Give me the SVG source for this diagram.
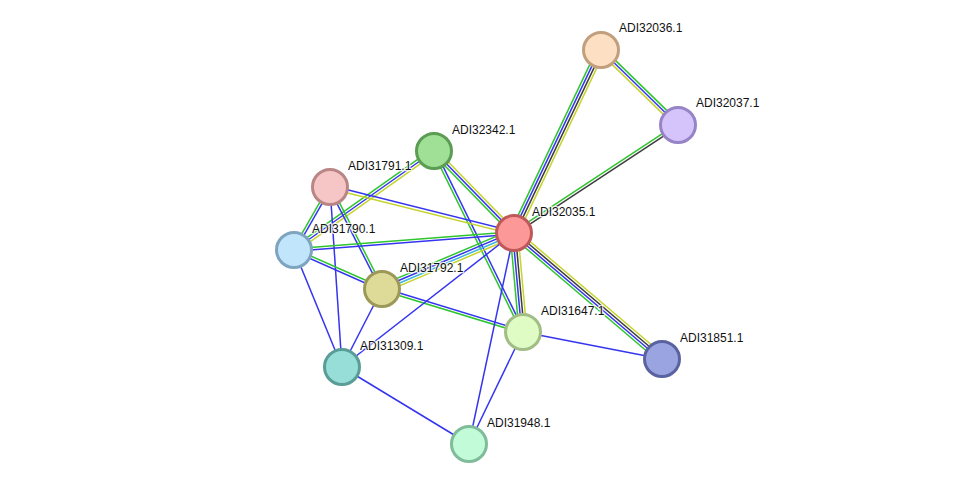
<svg xmlns="http://www.w3.org/2000/svg" width="976" height="490" viewBox="0 0 976 490">
<style>
.e line{stroke-width:1.5;fill:none}
.g{stroke:#2ec52e}.b{stroke:#3535f0}.y{stroke:#c5d42e}.k{stroke:#3c3c3c}.c{stroke:#3cb4e0}
.n circle{stroke-width:3}
.n text{font-family:"Liberation Sans",Arial,sans-serif;font-size:12px;fill:#111;stroke:#fff;stroke-width:2.5;stroke-opacity:0.8;paint-order:stroke;stroke-linejoin:round}
</style>
<rect width="976" height="490" fill="#fff"/>
<g id="edges" class="e">
<!-- 32035-32036 -->
<line class="g" x1="514" y1="233" x2="601" y2="50" transform="translate(-3.53,-1.67)"/>
<line class="b" x1="514" y1="233" x2="601" y2="50" transform="translate(-1.18,-0.56)"/>
<line class="k" x1="514" y1="233" x2="601" y2="50" transform="translate(1.18,0.56)"/>
<line class="y" x1="514" y1="233" x2="601" y2="50" transform="translate(3.53,1.67)"/>
<!-- 32036-32037 -->
<line class="y" x1="601" y1="50" x2="678" y2="125" transform="translate(-1.81,1.86)"/>
<line class="b" x1="601" y1="50" x2="678" y2="125"/>
<line class="g" x1="601" y1="50" x2="678" y2="125" transform="translate(1.81,-1.86)"/>
<!-- 32035-32037 -->
<line class="g" x1="514" y1="233" x2="678" y2="125" transform="translate(-0.72,-1.08)"/>
<line class="k" x1="514" y1="233" x2="678" y2="125" transform="translate(0.72,1.08)"/>
<!-- 32035-32342 -->
<line class="g" x1="514" y1="233" x2="434" y2="151" transform="translate(-1.86,1.81)"/>
<line class="b" x1="514" y1="233" x2="434" y2="151"/>
<line class="y" x1="514" y1="233" x2="434" y2="151" transform="translate(1.86,-1.81)"/>
<!-- 32342-31647 -->
<line class="g" x1="434" y1="151" x2="523" y2="332" transform="translate(-1.17,0.57)"/>
<line class="b" x1="434" y1="151" x2="523" y2="332" transform="translate(1.17,-0.57)"/>
<!-- 32342-31790 -->
<line class="g" x1="434" y1="151" x2="294" y2="250" transform="translate(-1.5,-2.12)"/>
<line class="b" x1="434" y1="151" x2="294" y2="250"/>
<line class="y" x1="434" y1="151" x2="294" y2="250" transform="translate(1.5,2.12)"/>
<!-- 31791-32035 -->
<line class="b" x1="330" y1="187" x2="514" y2="233" transform="translate(0.36,-1.46)"/>
<line class="y" x1="330" y1="187" x2="514" y2="233" transform="translate(-0.36,1.46)"/>
<!-- 31791-31790 -->
<line class="g" x1="330" y1="187" x2="294" y2="250" transform="translate(-1.13,-0.64)"/>
<line class="b" x1="330" y1="187" x2="294" y2="250" transform="translate(1.13,0.64)"/>
<!-- 31791-31792 -->
<line class="b" x1="330" y1="187" x2="382" y2="289" transform="translate(-1.16,0.59)"/>
<line class="g" x1="330" y1="187" x2="382" y2="289" transform="translate(1.16,-0.59)"/>
<!-- 31791-31309 -->
<line class="b" x1="330" y1="187" x2="342" y2="367"/>
<!-- 31790-32035 -->
<line class="g" x1="294" y1="250" x2="514" y2="233" transform="translate(-0.1,-1.3)"/>
<line class="b" x1="294" y1="250" x2="514" y2="233" transform="translate(0.1,1.3)"/>
<!-- 31790-31792 -->
<line class="g" x1="294" y1="250" x2="382" y2="289" transform="translate(0.53,-1.19)"/>
<line class="b" x1="294" y1="250" x2="382" y2="289" transform="translate(-0.53,1.19)"/>
<!-- 31792-31647 -->
<line class="b" x1="382" y1="289" x2="523" y2="332" transform="translate(0.38,-1.24)"/>
<line class="g" x1="382" y1="289" x2="523" y2="332" transform="translate(-0.38,1.24)"/>
<!-- 31792-32035 -->
<line class="g" x1="382" y1="289" x2="514" y2="233" transform="translate(-1.52,-3.59)"/>
<line class="b" x1="382" y1="289" x2="514" y2="233" transform="translate(-0.51,-1.2)"/>
<line class="c" x1="382" y1="289" x2="514" y2="233" transform="translate(0.51,1.2)"/>
<line class="y" x1="382" y1="289" x2="514" y2="233" transform="translate(1.52,3.59)"/>
<!-- singles -->
<line class="b" x1="382" y1="289" x2="342" y2="367"/>
<line class="b" x1="294" y1="250" x2="342" y2="367"/>
<line class="b" x1="342" y1="367" x2="514" y2="233"/>
<line class="b" x1="342" y1="367" x2="469" y2="444"/>
<line class="b" x1="469" y1="444" x2="514" y2="233"/>
<line class="b" x1="469" y1="444" x2="523" y2="332"/>
<line class="b" x1="523" y1="332" x2="662" y2="359"/>
<!-- 32035-31647 -->
<line class="g" x1="514" y1="233" x2="523" y2="332" transform="translate(-3.88,0.35)"/>
<line class="b" x1="514" y1="233" x2="523" y2="332" transform="translate(-1.29,0.12)"/>
<line class="k" x1="514" y1="233" x2="523" y2="332" transform="translate(1.29,-0.12)"/>
<line class="y" x1="514" y1="233" x2="523" y2="332" transform="translate(3.88,-0.35)"/>
<!-- 32035-31851 -->
<line class="g" x1="514" y1="233" x2="662" y2="359" transform="translate(-2.53,2.97)"/>
<line class="b" x1="514" y1="233" x2="662" y2="359" transform="translate(-0.84,0.99)"/>
<line class="k" x1="514" y1="233" x2="662" y2="359" transform="translate(0.84,-0.99)"/>
<line class="y" x1="514" y1="233" x2="662" y2="359" transform="translate(2.53,-2.97)"/>
</g>
<g id="ADI32036.1" class="n"><circle cx="601" cy="50" r="17.5" fill="#fddfc4" stroke="#c19f7d"/><text x="619" y="32">ADI32036.1</text></g>
<g id="ADI32037.1" class="n"><circle cx="678" cy="125" r="17.5" fill="#d5c4fb" stroke="#9784c6"/><text x="696" y="107">ADI32037.1</text></g>
<g id="ADI32342.1" class="n"><circle cx="434" cy="151" r="17.5" fill="#9fdf96" stroke="#5b9d53"/><text x="452" y="134">ADI32342.1</text></g>
<g id="ADI31791.1" class="n"><circle cx="330" cy="187" r="17.5" fill="#f6c6c6" stroke="#b98585"/><text x="348" y="170">ADI31791.1</text></g>
<g id="ADI31790.1" class="n"><circle cx="294" cy="250" r="17.5" fill="#c1e6fb" stroke="#7ea5bf"/><text x="312" y="233">ADI31790.1</text></g>
<g id="ADI32035.1" class="n"><circle cx="514" cy="233" r="17.5" fill="#fd9898" stroke="#bf5959"/><text x="532" y="216">ADI32035.1</text></g>
<g id="ADI31792.1" class="n"><circle cx="382" cy="289" r="17.5" fill="#dedb98" stroke="#9c9958"/><text x="400" y="272">ADI31792.1</text></g>
<g id="ADI31647.1" class="n"><circle cx="523" cy="332" r="17.5" fill="#e0fcc5" stroke="#a2bd86"/><text x="541" y="315">ADI31647.1</text></g>
<g id="ADI31851.1" class="n"><circle cx="662" cy="359" r="17.5" fill="#99a4e0" stroke="#5a63a0"/><text x="680" y="342">ADI31851.1</text></g>
<g id="ADI31309.1" class="n"><circle cx="342" cy="367" r="17.5" fill="#98ded8" stroke="#5a9d97"/><text x="360" y="350">ADI31309.1</text></g>
<g id="ADI31948.1" class="n"><circle cx="469" cy="444" r="17.5" fill="#c2fbd8" stroke="#80bc9a"/><text x="487" y="427">ADI31948.1</text></g>
</svg>
